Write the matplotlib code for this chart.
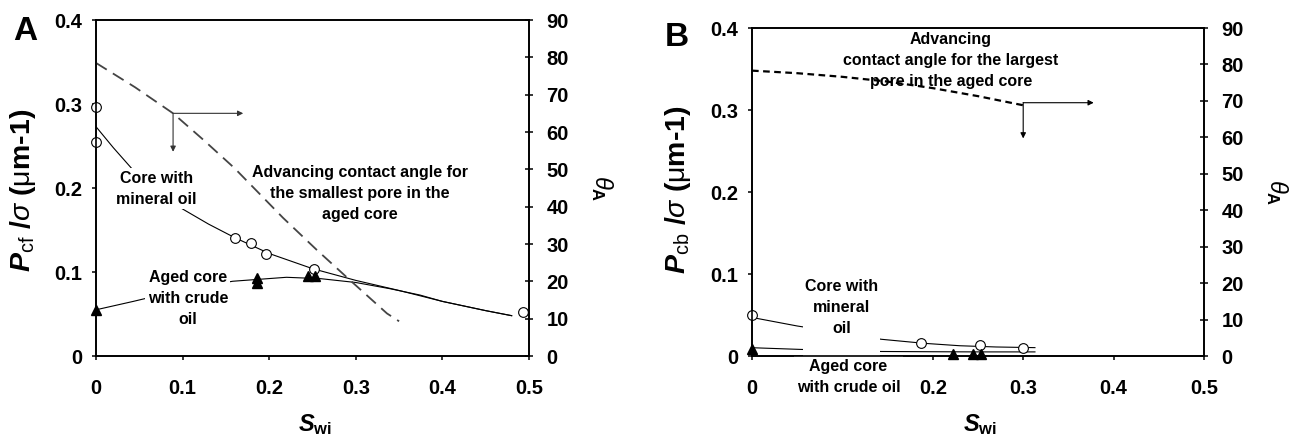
"""Capillary pressure / contact angle vs initial water saturation, panels A and B."""

import matplotlib

matplotlib.use("Agg")
import matplotlib.pyplot as plt
from matplotlib.ticker import FuncFormatter, MultipleLocator

plt.rcParams["font.family"] = ["Liberation Sans", "DejaVu Sans"]
plt.rcParams["mathtext.fontset"] = "custom"
plt.rcParams["mathtext.rm"] = "Liberation Sans"
plt.rcParams["mathtext.it"] = "Liberation Sans:italic"
plt.rcParams["mathtext.bf"] = "Liberation Sans:bold"
plt.rcParams["mathtext.bfit"] = "Liberation Sans:italic:bold"

# ---- panel A (P_cf / sigma) ----
a_min_x = [0, 0, 0.16, 0.179, 0.196, 0.252, 0.493]
a_min_y = [0.296, 0.255, 0.140, 0.135, 0.121, 0.103, 0.052]
a_min_fit_x = [0, 0.02, 0.05, 0.09, 0.13, 0.16, 0.2, 0.25, 0.3, 0.35, 0.4, 0.45, 0.48]
a_min_fit_y = [0.273, 0.248, 0.213, 0.181, 0.157, 0.141, 0.122, 0.104, 0.090, 0.078, 0.065, 0.054, 0.048]
a_crude_x = [0, 0.1855, 0.1855, 0.245, 0.253]
a_crude_y = [0.055, 0.0925, 0.0865, 0.095, 0.095]
a_crude_fit_x = [0, 0.043, 0.1, 0.158, 0.22, 0.26, 0.3, 0.34, 0.374, 0.4, 0.45, 0.48]
a_crude_fit_y = [0.055, 0.065, 0.079, 0.089, 0.0937, 0.092, 0.0875, 0.080, 0.0726, 0.065, 0.054, 0.048]
a_theta_x = [0, 0.045, 0.089, 0.124, 0.16, 0.216, 0.255, 0.29, 0.336, 0.35]
a_theta = [78.5, 72.0, 65.0, 57.9, 50.3, 37.0, 28.4, 21.0, 11.4, 9.3]
a_knee = (0.089, 65.0)
a_arrow_right = 0.17
a_arrow_down = 54.7

# ---- panel B (P_cb / sigma) ----
b_min_x = [0, 0.187, 0.252, 0.30]
b_min_y = [0.050, 0.0155, 0.0134, 0.0094]
b_min_fit_x = [0, 0.05, 0.1, 0.143, 0.19, 0.23, 0.27, 0.313]
b_min_fit_y = [0.047, 0.0366, 0.028, 0.0204, 0.0155, 0.0125, 0.011, 0.0102]
b_crude_x = [0, 0.2227, 0.244, 0.253]
b_crude_y = [0.009, 0.003, 0.003, 0.003]
b_crude_fit_x = [0, 0.052, 0.1, 0.143, 0.2, 0.25, 0.313]
b_crude_fit_y = [0.0101, 0.0081, 0.0065, 0.0055, 0.0052, 0.005, 0.005]
b_theta_x = [0, 0.05, 0.1, 0.15, 0.2, 0.25, 0.3]
b_theta = [78.3, 77.6, 76.6, 75.3, 73.5, 71.3, 68.8]
b_knee = (0.3, 69.5)
b_arrow_right = 0.378
b_arrow_down = 59.7
b_hidden_xtick = 0.1  # covered by the "Aged core" label in the original

W, H = 1302, 447
TICK_FS = 14.5
NOTE = dict(fontsize=11.5, fontweight="bold", ha="center", va="center", linespacing=1.5)
BOX = dict(boxstyle="square,pad=0.15", facecolor="white", edgecolor="none")


def fmt(v, _):
    return "0" if abs(v) < 1e-9 else f"{v:.1f}"


def setup(ax, xfmt=fmt):
    ax.set_xlim(0, 0.5)
    ax.set_ylim(0, 0.4)
    ax.xaxis.set_major_locator(MultipleLocator(0.1))
    ax.yaxis.set_major_locator(MultipleLocator(0.1))
    ax.xaxis.set_major_formatter(FuncFormatter(xfmt))
    ax.yaxis.set_major_formatter(FuncFormatter(fmt))
    ax.tick_params(axis="x", direction="out", length=3.2, width=1.1, pad=13.5, labelsize=TICK_FS)
    ax.tick_params(axis="y", direction="out", length=3, width=1.1, pad=7, labelsize=TICK_FS)
    for lab in ax.get_xticklabels() + ax.get_yticklabels():
        lab.set_fontweight("bold")
    for s in ax.spines.values():
        s.set_linewidth(1.2)
    ax2 = ax.twinx()
    ax2.set_ylim(0, 90)
    ax2.yaxis.set_major_locator(MultipleLocator(10))
    ax2.tick_params(axis="y", direction="inout", length=6, width=1.1, pad=9.5, labelsize=TICK_FS)
    for lab in ax2.get_yticklabels():
        lab.set_fontweight("bold")
    for s in ax2.spines.values():
        s.set_linewidth(1.2)
    return ax2


def arrows(ax2, knee, right, down, color):
    props = dict(arrowstyle="-|>", color=color, lw=0.8, mutation_scale=8, shrinkA=0, shrinkB=0)
    ax2.annotate("", xy=(right, knee[1]), xytext=knee, arrowprops=props)
    ax2.annotate("", xy=(knee[0], down), xytext=knee, arrowprops=props)


def fx(px):
    return px / W


def fy(py):
    return 1 - py / H


def main():
    fig = plt.figure(figsize=(W / 100, H / 100), dpi=100)

    # (A)
    ax = fig.add_axes([fx(96), fy(356), 433 / W, 336 / H])
    ax2 = setup(ax)
    ax.plot(a_min_fit_x, a_min_fit_y, color="black", lw=0.8)
    ax.plot(a_crude_fit_x, a_crude_fit_y, color="black", lw=0.8)
    ax.plot(a_min_x, a_min_y, "o", mfc="white", mec="black", mew=0.8, ms=7, clip_on=False, zorder=3)
    ax.plot(a_crude_x, a_crude_y, "^", color="black", ms=7, clip_on=False, zorder=3)
    ax2.plot(a_theta_x, a_theta, color="#444444", lw=1.3, dashes=(7, 4))
    arrows(ax2, a_knee, a_arrow_right, a_arrow_down, "#333333")
    ax2.text(0.07, 0.199, "Core with\nmineral oil", transform=ax.transData, bbox=BOX, zorder=2.4, **NOTE)
    ax2.text(0.305, 0.194, "Advancing contact angle for\nthe smallest pore in the\naged core",
             transform=ax.transData, zorder=2.4, **NOTE)
    ax2.text(0.106, 0.069, "Aged core\nwith crude\noil", transform=ax.transData, bbox=BOX,
             zorder=2.4, **NOTE)

    # (B)
    bx = fig.add_axes([fx(752), fy(356), 452 / W, 328 / H])
    bx2 = setup(bx, lambda v, p: "" if abs(v - b_hidden_xtick) < 1e-9 else fmt(v, p))
    bx.plot(b_min_fit_x, b_min_fit_y, color="black", lw=0.8)
    bx.plot(b_crude_fit_x, b_crude_fit_y, color="black", lw=0.8)
    bx.plot(b_min_x, b_min_y, "o", mfc="white", mec="black", mew=0.8, ms=7, clip_on=False, zorder=3)
    bx.plot(b_crude_x, b_crude_y, "^", color="black", ms=7, clip_on=False, zorder=3)
    bx2.plot(b_theta_x, b_theta, color="black", lw=1.6, dashes=(3, 2))
    arrows(bx2, b_knee, b_arrow_right, b_arrow_down, "black")
    bx2.text(0.22, 0.36, "Advancing\ncontact angle for the largest\npore in the aged core",
             transform=bx.transData, zorder=2.4, **NOTE)
    bx2.text(0.099, 0.0461, "Core with\nmineral\noil\n ", transform=bx.transData, bbox=BOX,
             zorder=2.4, **NOTE)
    bx2.text(0.1066, -0.025, "Aged core\nwith crude oil", transform=bx.transData, bbox=BOX,
             zorder=2.4, clip_on=False, **NOTE)

    # panel letters and axis titles
    fig.text(fx(25), fy(32), "A", fontsize=24, fontweight="bold", ha="center", va="center")
    fig.text(fx(677), fy(37), "B", fontsize=24, fontweight="bold", ha="center", va="center")
    for x, sub in ((23, "cf"), (678, "cb")):
        fig.text(fx(x), fy(190), r"$\mathbfit{P}_{\mathrm{" + sub + r"}}$ /$\sigma$ ($\mathrm{\mu}$m-1)",
                 fontsize=20.5, fontweight="bold", rotation=90, ha="center", va="center")
    for x, y in ((602, 188), (1277, 192)):
        fig.text(fx(x), fy(y), r"$\theta_{\mathbf{A}}$", fontsize=17, rotation=270,
                 ha="center", va="center")
    for x in (315, 980):
        fig.text(fx(x), fy(425), r"$\mathbfit{S}_{\mathbf{wi}}$", fontsize=17,
                 ha="center", va="center")

    fig.savefig("out.png", dpi=100)


if __name__ == "__main__":
    main()
